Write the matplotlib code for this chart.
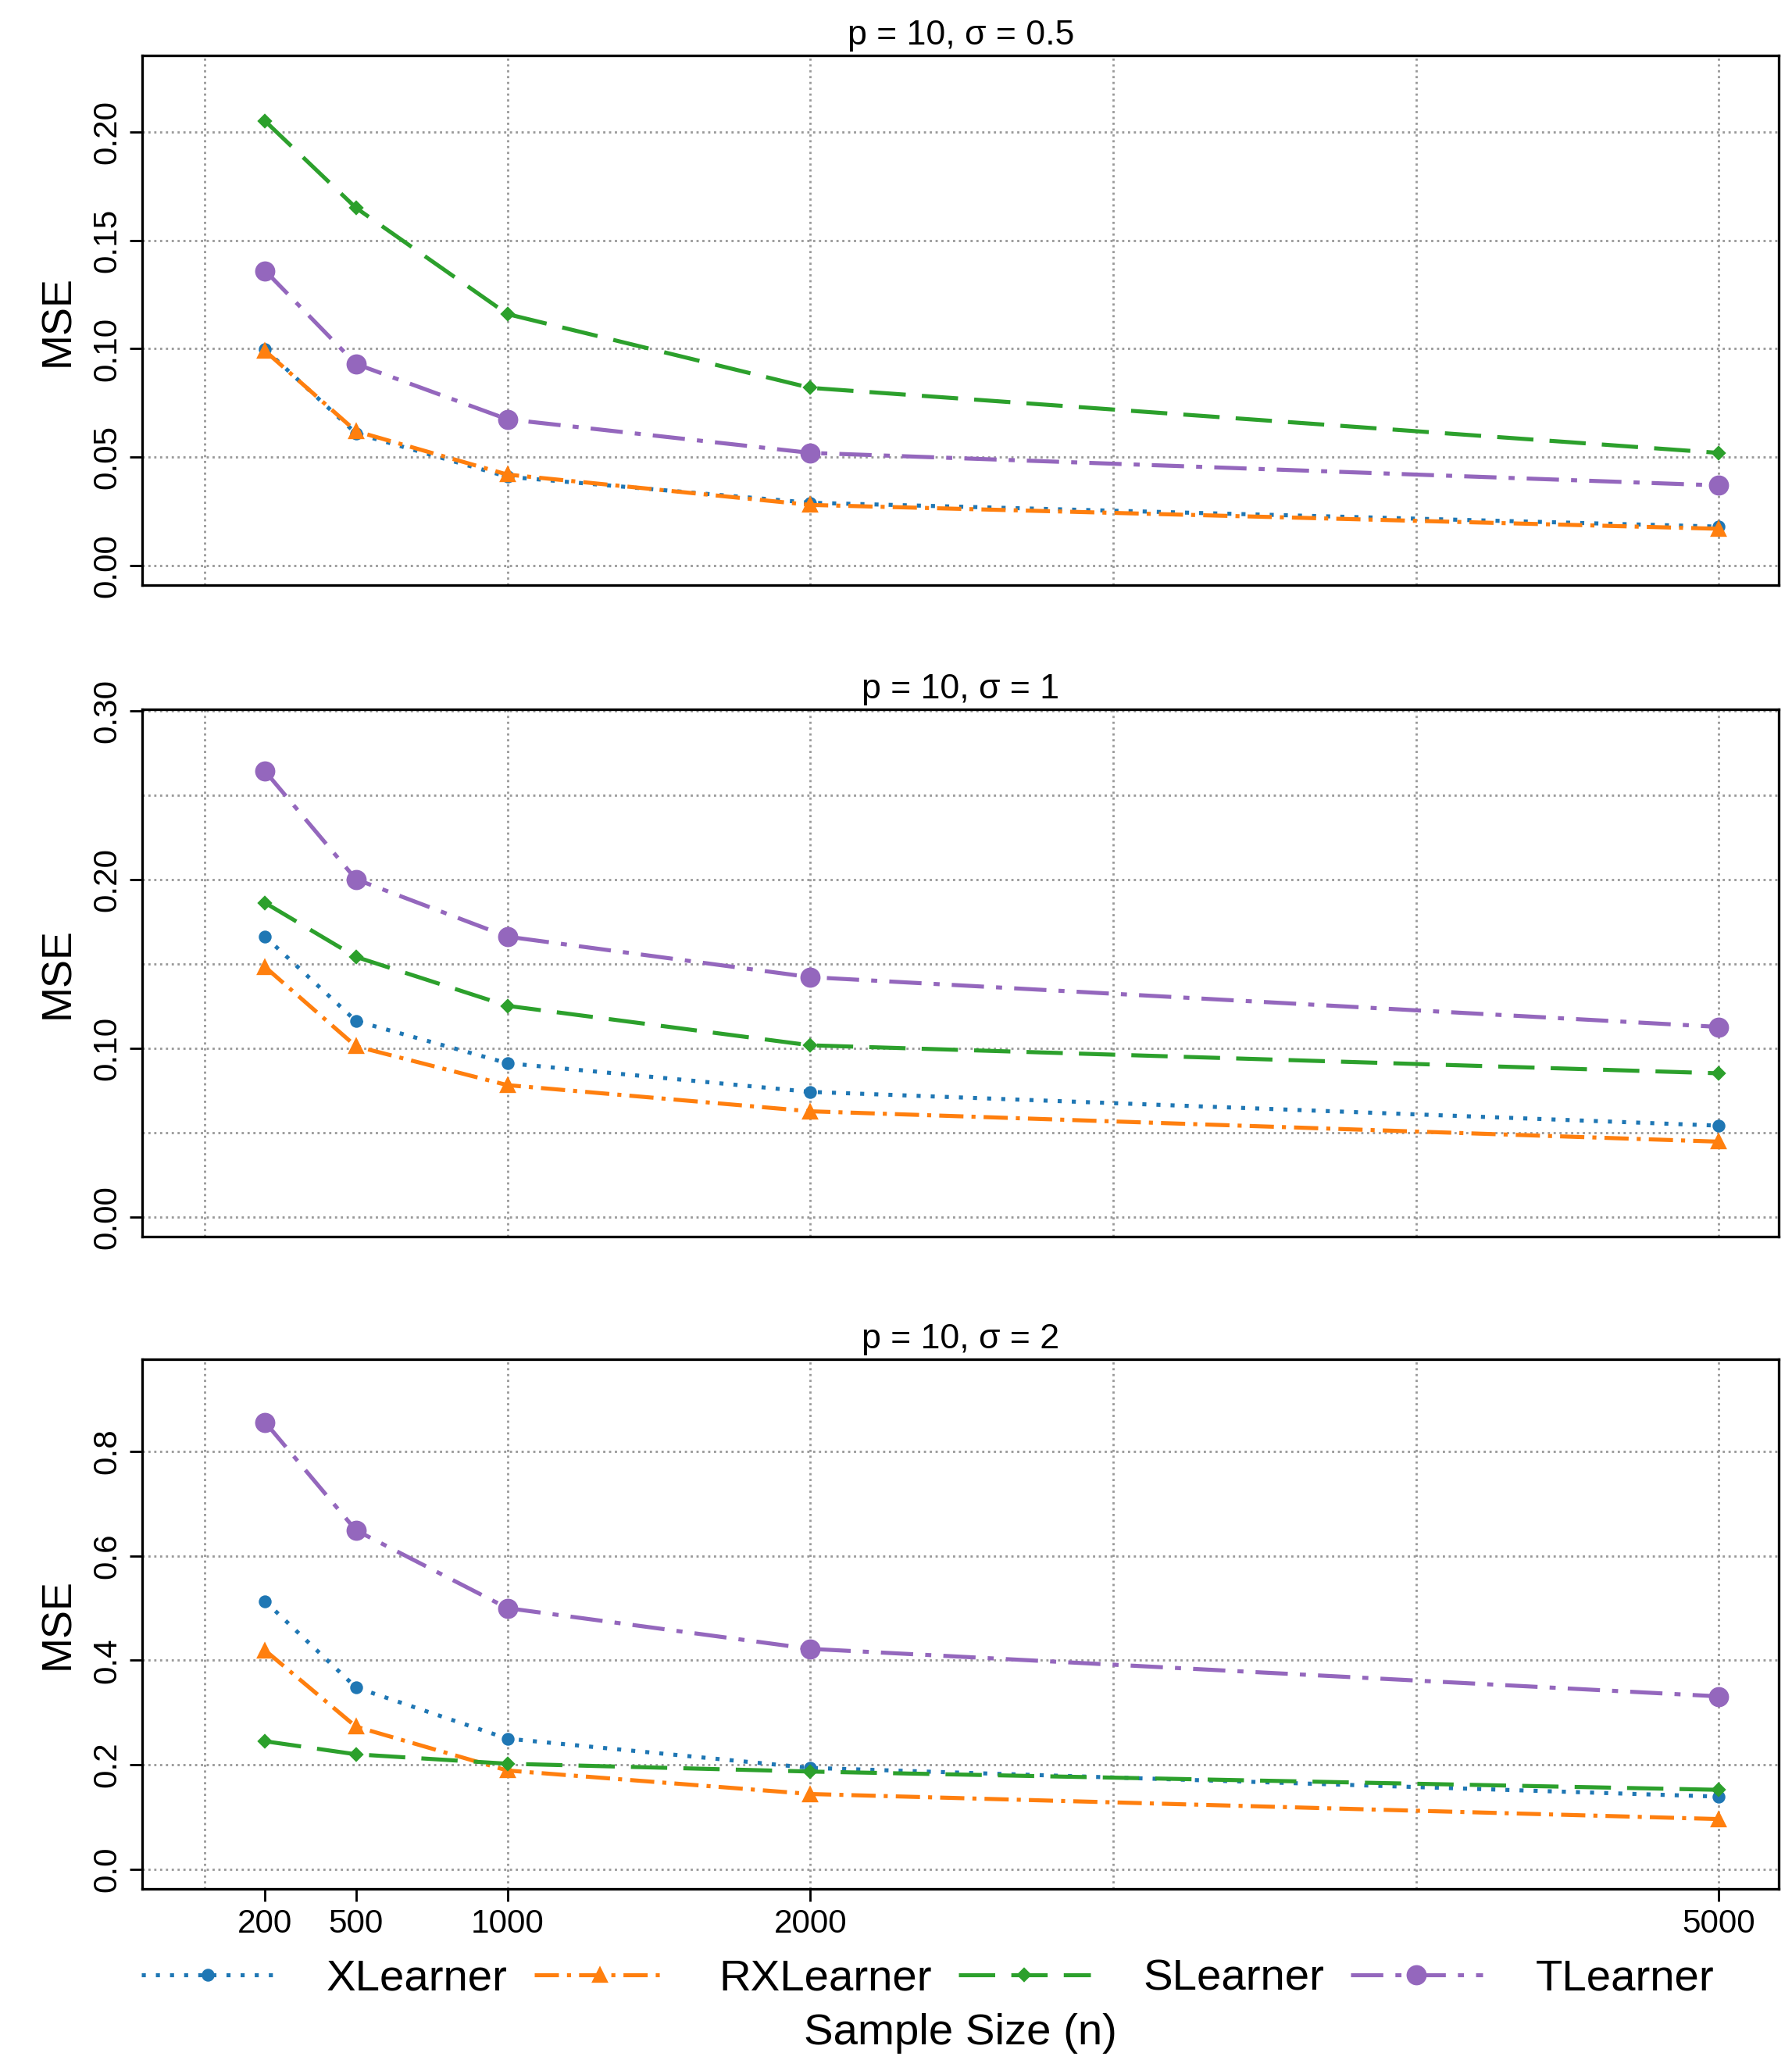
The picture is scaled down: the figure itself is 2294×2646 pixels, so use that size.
import matplotlib.pyplot as plt
import numpy as np

plt.rcParams["font.family"] = "Liberation Sans"

sizes = [200, 500, 1000, 2000, 5000]
titles = ["p = 10, σ = 0.5", "p = 10, σ = 1", "p = 10, σ = 2"]

x_learner = [[0.0997, 0.061, 0.041, 0.029, 0.018],
             [0.166, 0.116, 0.091, 0.074, 0.054],
             [0.513, 0.348, 0.25, 0.194, 0.139]]
rx_learner = [[0.099, 0.062, 0.042, 0.028, 0.017],
              [0.148, 0.101, 0.078, 0.0625, 0.0445],
              [0.419, 0.273, 0.189, 0.144, 0.096]]
s_learner = [[0.205, 0.165, 0.116, 0.082, 0.052],
             [0.186, 0.154, 0.125, 0.1016, 0.085],
             [0.245, 0.22, 0.202, 0.187, 0.152]]
t_learner = [[0.136, 0.093, 0.0675, 0.052, 0.037],
             [0.264, 0.2, 0.166, 0.142, 0.1125],
             [0.856, 0.649, 0.5, 0.422, 0.331]]

ylims = [(-0.0091, 0.2353), (-0.0117, 0.3008), (-0.038, 0.977)]
ygrid = [np.arange(0, 0.201, 0.05), np.arange(0, 0.301, 0.05), np.arange(0, 0.81, 0.2)]
yticks = [np.arange(0, 0.201, 0.05), np.arange(0, 0.301, 0.1), np.arange(0, 0.81, 0.2)]
yfmt = ["%.2f", "%.2f", "%.1f"]
boxes = [(0.7168, 0.9732), (0.4018, 0.6569), (0.0861, 0.3425)]

fig = plt.figure(figsize=(2294 / 169, 2646 / 169), dpi=169)

series = [
    ("XLearner", x_learner, "#1f77b4", (0, (1, 2.5)), "o", 6),
    ("RXLearner", rx_learner, "#ff7f0e", (0, (6, 2, 1, 2)), "^", 8),
    ("SLearner", s_learner, "#2ca02c", (0, (9, 4)), "D", 5),
    ("TLearner", t_learner, "#9467bd", (0, (8, 3, 1.5, 3)), "o", 10),
]

for i in range(3):
    b, t = boxes[i]
    ax = fig.add_axes([0.0795, b, 0.9926 - 0.0795, t - b])
    for gx in range(0, 5001, 1000):
        ax.axvline(gx, color="#999999", ls=":", lw=1.2, zorder=0)
    for gy in ygrid[i]:
        ax.axhline(gy, color="#999999", ls=":", lw=1.2, zorder=0)
    for name, data, c, ls, m, ms in series:
        ax.plot(sizes, data[i], color=c, ls=ls, lw=2.2, marker=m, ms=ms, label=name)
    ax.set_xlim(-205, 5198)
    ax.set_ylim(*ylims[i])
    ax.set_yticks(yticks[i])
    ax.set_yticklabels([yfmt[i] % v for v in yticks[i]], rotation=90, va="center")
    ax.tick_params(labelsize=18, length=7, width=1.2, direction="out")
    if i < 2:
        ax.set_xticks([])
    else:
        ax.set_xticks(sizes)
    ax.set_ylabel("MSE", fontsize=23, labelpad=8)
    ax.set_title(titles[i], fontsize=19, pad=6)
    for s in ax.spines.values():
        s.set_linewidth(1.4)
    if i == 2:
        ax.legend(loc="upper center", bbox_to_anchor=(0.48, -0.09), ncol=4, frameon=False,
                  fontsize=24, handlelength=3.0, columnspacing=0.6, handletextpad=1.2,
                  borderpad=0.0)
        ax.set_xlabel("Sample Size (n)", fontsize=24, labelpad=40)

plt.savefig("out.png", dpi=169)
